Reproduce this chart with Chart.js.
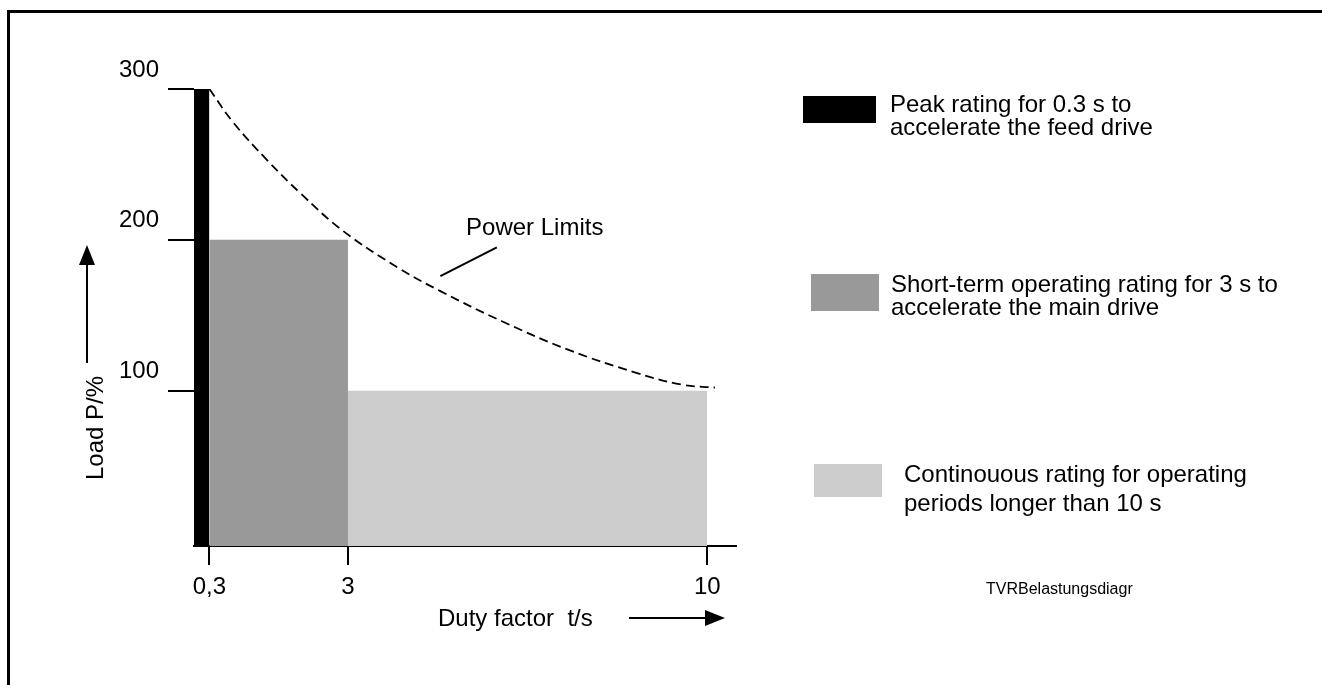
<!DOCTYPE html>
<html><head><meta charset="utf-8">
<script src="https://cdn.jsdelivr.net/npm/chart.js@4/dist/chart.umd.min.js"></script>
<style>html,body{margin:0;padding:0;background:#fff;overflow:hidden}#wrap{position:relative;width:1322px;height:685px}</style>
</head><body><div id="wrap"><canvas id="c" width="1322" height="685"></canvas></div>
<script>
// ---- data ----
const xTickValues = [0.3, 3, 10];
const xTickLabels = ['0,3', '3', '10'];
const yTickValues = [100, 200, 300];
const yTickLabels = ['100', '200', '300'];

const ratingNames = [
  'Peak rating for 0.3 s to\naccelerate the feed drive',
  'Short-term operating rating for 3 s to\naccelerate the main drive',
  'Continouous rating for operating\nperiods longer than 10 s'
];
const ratingStart = [0, 0.3, 3];
const ratingEnd = [0.3, 3, 10];
const ratingLoad = [300, 200, 100];
const ratingColors = ['#000000', '#999999', '#cccccc'];

const limitTime = [0.3, 0.76, 1.42, 2.07, 2.9, 4.0, 4.8, 6.0, 7.3, 8.6, 9.5, 10.15];
const limitLoad = [300, 278, 253, 231, 206, 181, 166, 146, 127, 112, 104, 102];

const xTitle = 'Duty factor  t/s';
const yTitle = 'Load P/%';
const curveName = 'Power Limits';
const footnote = 'TVRBelastungsdiagr';

const FONT = '"Liberation Sans", Arial, Helvetica, sans-serif';
Chart.defaults.font.family = FONT;
Chart.defaults.color = '#000';

const datasets = ratingNames.map((n, i) => ({
  label: n,
  data: [{x: ratingStart[i], y: ratingLoad[i]}, {x: ratingEnd[i], y: ratingLoad[i]}],
  fill: 'start',
  backgroundColor: ratingColors[i],
  borderColor: 'rgba(0,0,0,0)',
  borderWidth: 0,
  pointRadius: 0,
  tension: 0,
  order: i
}));
datasets.push({
  label: curveName,
  data: limitTime.map((t, i) => ({x: t, y: limitLoad[i]})),
  fill: false,
  borderColor: '#000',
  borderWidth: 1.8,
  borderDash: [9, 5],
  pointRadius: 0,
  tension: 0.4,
  order: -1
});

function arrow(ctx, x1, y1, x2, y2) {
  const ang = Math.atan2(y2 - y1, x2 - x1);
  const hl = 20, hw = 8;
  const bx = x2 - hl * Math.cos(ang), by = y2 - hl * Math.sin(ang);
  ctx.beginPath(); ctx.moveTo(x1, y1); ctx.lineTo(bx, by); ctx.stroke();
  ctx.beginPath();
  ctx.moveTo(x2, y2);
  ctx.lineTo(bx + hw * Math.sin(ang), by - hw * Math.cos(ang));
  ctx.lineTo(bx - hw * Math.sin(ang), by + hw * Math.cos(ang));
  ctx.closePath(); ctx.fill();
}

const legendBoxes = [
  {x: 803, y: 96, w: 73, h: 27, tx: 890, base: [112, 135]},
  {x: 811, y: 274, w: 68, h: 37, tx: 891, base: [292, 315]},
  {x: 814, y: 464, w: 68, h: 33, tx: 904, base: [482, 511]}
];

const decor = {
  id: 'decor',
  afterDraw(chart) {
    const ctx = chart.ctx, xs = chart.scales.x, ys = chart.scales.y;
    ctx.save();
    ctx.fillStyle = '#000'; ctx.strokeStyle = '#000';
    // frame
    ctx.fillRect(7, 10, 1315, 3);
    ctx.fillRect(7, 10, 3, 675);
    // curve label + leader
    ctx.font = '24px ' + FONT;
    ctx.textAlign = 'left'; ctx.textBaseline = 'alphabetic';
    ctx.fillText(curveName, xs.getPixelForValue(5.3), ys.getPixelForValue(203));
    ctx.lineWidth = 2;
    ctx.beginPath();
    ctx.moveTo(xs.getPixelForValue(5.9), ys.getPixelForValue(195));
    ctx.lineTo(xs.getPixelForValue(4.8), ys.getPixelForValue(176));
    ctx.stroke();
    // x title + arrow
    ctx.fillText(xTitle, 438, 626);
    arrow(ctx, 629, 618, 725, 618);
    // y title + arrow
    ctx.save(); ctx.translate(103, 428); ctx.rotate(-Math.PI / 2);
    ctx.textAlign = 'center'; ctx.fillText(yTitle, 0, 0); ctx.restore();
    arrow(ctx, 87, 363, 87, 245);
    // legend
    ctx.font = '24px ' + FONT;
    chart.data.datasets.slice(0, ratingNames.length).forEach((ds, i) => {
      const b = legendBoxes[i];
      ctx.fillStyle = ds.backgroundColor;
      ctx.fillRect(b.x, b.y, b.w, b.h);
      ctx.fillStyle = '#000';
      ds.label.split('\n').forEach((line, j) => ctx.fillText(line, b.tx, b.base[j]));
    });
    // footnote
    ctx.font = '16px ' + FONT;
    ctx.fillText(footnote, 986, 594);
    ctx.restore();
  }
};

new Chart(document.getElementById('c'), {
  type: 'line',
  data: {datasets},
  options: {
    responsive: false,
    animation: false,
    layout: {padding: {left: 0, top: 89, right: 586, bottom: 0}},
    plugins: {legend: {display: false}, tooltip: {enabled: false}},
    scales: {
      x: {
        type: 'linear', min: 0, max: 10.56,
        afterBuildTicks: s => { s.ticks = xTickValues.map(v => ({value: v})); },
        afterFit: s => { s.height = 139; },
        border: {display: true, color: '#000', width: 2},
        grid: {drawOnChartArea: false, drawTicks: true, tickLength: 19, color: '#000', lineWidth: 2},
        ticks: {color: '#000', font: {size: 24}, padding: 8, maxRotation: 0, autoSkip: false,
                callback: (v, i) => xTickLabels[i]}
      },
      y: {
        type: 'linear', min: -3, max: 300,
        afterBuildTicks: s => { s.ticks = yTickValues.map(v => ({value: v})); },
        afterFit: s => { s.width = 194; },
        border: {display: false},
        grid: {drawOnChartArea: false, drawTicks: true, tickLength: 26, color: '#000', lineWidth: 2},
        ticks: {color: '#000', font: {size: 24}, padding: 9, labelOffset: -19, autoSkip: false,
                callback: (v, i) => yTickLabels[i]}
      }
    }
  },
  plugins: [decor]
});
</script></body></html>
